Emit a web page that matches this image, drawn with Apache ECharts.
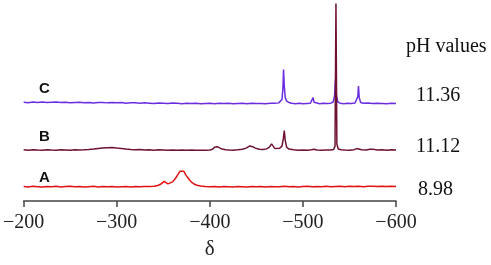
<!DOCTYPE html>
<html>
<head>
<meta charset="utf-8">
<script src="https://cdn.jsdelivr.net/npm/echarts@6/dist/echarts.min.js"></script>
<style>
  html, body { margin: 0; padding: 0; background: #fff; }
  #chart { width: 491px; height: 265px; }
</style>
</head>
<body>
<div id="chart"></div>
<script>
// chemical shift ticks
const xTicks = [-200, -300, -400, -500, -600]

// trace labels and pH values (top to bottom)
const traceNames = ['C', 'B', 'A']
const phValues = ['11.36', '11.12', '8.98']

// vertical offsets of each trace baseline
const baseA = 14.7
const baseB = 52.5
const baseC = 100.5

// [delta, intensity]
const traceC = [
  [-200, 1.2], [-205, 0.8], [-210, 1.4], [-215, 1.0], [-220, 1.5], [-225, 0.9], [-230, 1.3], [-235, 1.5],
  [-240, 1.0], [-245, 1.3], [-250, 0.7], [-255, 1.1], [-260, 1.3], [-265, 0.8], [-270, 1.1], [-275, 0.5],
  [-280, 1.0], [-285, 1.1], [-290, 0.6], [-295, 0.9], [-300, 0.6], [-305, 0.9], [-310, 0.3], [-315, 0.6],
  [-320, 0.8], [-325, 0.3], [-330, 0.6], [-335, 0.3], [-340, 0.0], [-345, 0.4], [-350, 0.3], [-355, -0.1],
  [-360, 0.4], [-365, 0.1], [-370, -0.2], [-375, 0.2], [-380, -0.1], [-385, 0.1], [-390, -0.3], [-395, 0.0],
  [-400, 0.2], [-405, -0.2], [-410, 0.1], [-415, -0.1], [-420, 0.2], [-425, -0.3], [-430, 0.0], [-435, 0.1],
  [-440, -0.2], [-445, 0.2], [-450, -0.1], [-455, 0.0], [-460, -0.3], [-465, 0.1], [-470, 0.2], [-474, 0.6],
  [-476, 1.5], [-477.5, 4], [-478.5, 15], [-479.2, 35], [-480, 18], [-481, 6], [-482.5, 2.5], [-485, 1],
  [-488, 0.2], [-492, -0.2], [-496, 0.1], [-500, -0.3], [-504, 0.0], [-508, 0.3], [-510, 1.5], [-511, 6],
  [-512, 1.2], [-514, 0.0], [-518, -0.2], [-522, 0.2], [-526, -0.1], [-530, 0.3], [-532.5, 1.5], [-534, 8],
  [-535, 25], [-536, 8], [-537.5, 1.5], [-540, 0.3], [-544, -0.2], [-548, 0.1], [-552, -0.1], [-556, 0.4],
  [-558, 1.5], [-559, 7], [-559.7, 18], [-560.5, 6], [-562, 1], [-565, 0.2], [-570, 0.4], [-575, -0.1],
  [-580, 0.2], [-585, 0.0], [-590, -0.2], [-595, 0.1], [-600, 0.0]
]

const traceB = [
  [-200, 0.2], [-205, -0.3], [-210, 0.3], [-215, 0.0], [-220, -0.2], [-225, 0.4], [-230, 0.0], [-235, -0.3],
  [-240, 0.2], [-245, 0.1], [-250, -0.2], [-255, 0.3], [-260, 0.0], [-265, 0.2], [-270, 0.5], [-275, 1.0],
  [-280, 1.6], [-285, 2.2], [-290, 2.4], [-295, 2.6], [-300, 2.0], [-305, 1.5], [-310, 1.0], [-315, 0.6],
  [-320, 0.3], [-325, 0.5], [-330, 0.1], [-335, 0.3], [-340, -0.1], [-345, 0.2], [-350, 0.0], [-355, -0.2],
  [-360, 0.1], [-365, -0.3], [-370, 0.0], [-375, -0.2], [-380, 0.1], [-385, -0.3], [-390, -0.1], [-395, -0.2],
  [-400, 0.1], [-403, 0.8], [-405, 3], [-406.5, 5], [-408, 3.5], [-410, 2], [-413, 1], [-417, 0.3],
  [-421, 0.0], [-425, -0.1], [-430, 0.3], [-435, 0.8], [-439, 2], [-443, 4.2], [-446, 3.5], [-449, 2],
  [-453, 0.8], [-457, 0.5], [-461, 1.2], [-464, 3], [-466.3, 6.3], [-468, 4], [-470, 1.5], [-472, 1],
  [-475, 1.8], [-477.5, 4], [-479, 12], [-480, 20], [-481, 10], [-482.5, 3], [-485, 1], [-490, 0.2],
  [-495, -0.2], [-500, 0.0], [-505, -0.3], [-509, 0.3], [-511, 1.8], [-512, 0.8], [-515, 0.0], [-520, -0.2],
  [-525, 0.1], [-530, 0.0], [-533, 0.6], [-534.5, 4], [-535.5, 151], [-536.5, 6], [-538, 1], [-541, 0.3],
  [-545, 0.0], [-550, -0.2], [-555, 0.4], [-558, 1.5], [-559, 3.5], [-560, 1.2], [-563, 0.3], [-568, 0.0],
  [-572, 0.8], [-574, 1.5], [-576, 0.7], [-580, 0.0], [-585, 0.2], [-590, -0.1], [-595, 0.2], [-600, 0.0]
]

const traceA = [
  [-200, 0.3], [-205, -0.2], [-210, 0.4], [-215, 0.1], [-220, -0.3], [-225, 0.3], [-230, 0.0], [-235, 0.4],
  [-240, -0.2], [-245, 0.2], [-250, 0.5], [-255, -0.1], [-260, 0.3], [-265, -0.3], [-270, 0.1], [-275, 0.4],
  [-280, -0.2], [-285, 0.2], [-290, 0.0], [-295, 0.3], [-300, -0.3], [-305, 0.1], [-310, 0.3], [-315, -0.2],
  [-320, 0.2], [-325, 0.0], [-330, 0.3], [-335, 0.2], [-340, 0.6], [-344, 1.3], [-347, 2.5], [-349, 4],
  [-351, 5.6], [-353, 4], [-355, 3], [-357, 3.3], [-360, 5], [-363, 8.5], [-366, 13], [-368, 16],
  [-370, 18], [-372, 16], [-374, 12.5], [-377, 8.5], [-380, 5], [-383, 2.8], [-386, 1.5], [-390, 0.7],
  [-395, 0.3], [-400, 0.0], [-405, 0.3], [-410, -0.2], [-415, 0.2], [-420, 0.0], [-425, -0.3], [-430, 0.2],
  [-435, 0.1], [-440, -0.2], [-445, 0.3], [-450, 0.0], [-455, 0.2], [-460, -0.2], [-465, 0.3], [-470, 0.1],
  [-475, -0.1], [-480, 0.4], [-485, 0.0], [-490, 0.3], [-495, -0.2], [-500, 0.2], [-505, 0.4], [-510, 0.0],
  [-515, 0.3], [-520, 0.1], [-525, 0.4], [-530, 0.0], [-535, 0.3], [-540, 0.5], [-545, 0.1], [-550, 0.4],
  [-555, 0.2], [-560, 0.5], [-565, 0.1], [-570, 0.4], [-575, 0.6], [-580, 0.2], [-585, 0.5], [-590, 0.3],
  [-595, 0.5], [-600, 0.3]
]

const shift = (arr, base) => arr.map(p => [p[0], p[1] + base])

const chart = echarts.init(document.getElementById('chart'))

const serif = 'Liberation Serif'
const sans = 'Liberation Sans'

// label centres (px)
const labelY = [89, 137, 178]
const phY = [97, 148, 191]

chart.setOption({
  animation: false,
  grid: { left: 22, right: 95, top: 3, bottom: 58 },
  xAxis: {
    type: 'value',
    min: -600,
    max: -200,
    interval: 100,
    inverse: true,
    name: 'δ',
    nameLocation: 'middle',
    nameGap: 38,
    nameTextStyle: { fontFamily: serif, fontSize: 21, color: '#222' },
    axisLine: { lineStyle: { color: '#444', width: 1.5 } },
    axisTick: { length: 6, lineStyle: { color: '#444', width: 1.5 } },
    axisLabel: {
      margin: 12,
      fontFamily: serif,
      fontSize: 20,
      color: '#222',
      formatter: v => xTicks.includes(v) ? '\u2212' + Math.abs(v) : ''
    },
    splitLine: { show: false }
  },
  yAxis: { type: 'value', min: 0, max: 204, show: false },
  series: [
    { name: 'C', type: 'line', data: shift(traceC, baseC), showSymbol: false, lineStyle: { color: '#6a2ee0', width: 1.5 } },
    { name: 'B', type: 'line', data: shift(traceB, baseB), showSymbol: false, lineStyle: { color: '#6e1230', width: 1.5 } },
    { name: 'A', type: 'line', data: shift(traceA, baseA), showSymbol: false, lineStyle: { color: '#e01212', width: 1.5 } }
  ],
  graphic: [
    ...traceNames.map((t, i) => ({
      type: 'text', left: 39, top: labelY[i] - 8,
      style: { text: t, font: 'bold 15px ' + sans, fill: '#111' }
    })),
    {
      type: 'text', left: 406, top: 48 - 11,
      style: { text: 'pH values', font: '20px ' + serif, fill: '#111' }
    },
    ...phValues.map((t, i) => ({
      type: 'text', left: t.length > 4 ? 416 : 418, top: phY[i] - 11,
      style: { text: t, font: '20px ' + serif, fill: '#111' }
    }))
  ]
})
</script>
</body>
</html>
